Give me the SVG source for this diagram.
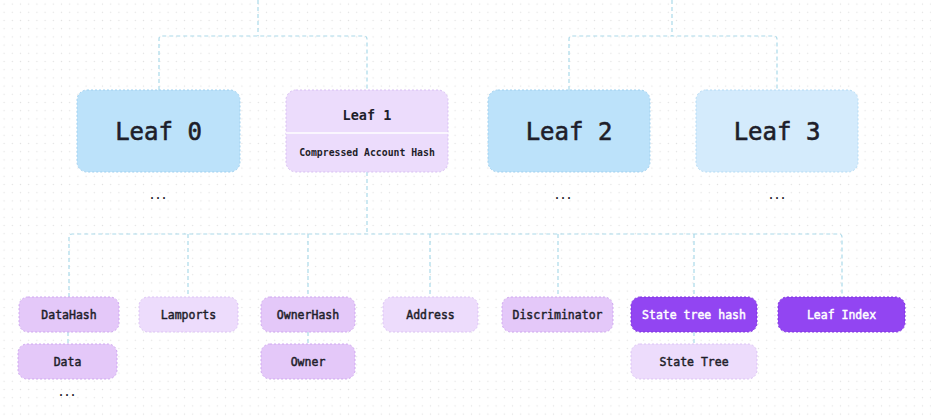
<svg xmlns="http://www.w3.org/2000/svg" width="931" height="417" viewBox="0 0 931 417">
<defs>
<pattern id="grid" width="8.2" height="8.2" patternUnits="userSpaceOnUse">
<rect x="3.5" y="3.5" width="1.2" height="1.2" fill="#e2e2e2"/>
</pattern>
<style>
text{font-family:"DejaVu Sans Mono","Liberation Mono",monospace;text-anchor:middle;fill:#1e1e2a}
.big{font-size:24px;stroke:#1e1e2a;stroke-width:0.6}
.mid{font-size:13.5px;font-weight:bold}
.sm{font-size:9.8px;font-weight:bold}
.lbl{font-size:11.5px;stroke:#1e1e2a;stroke-width:0.45}
.w{fill:#ffffff;stroke:#ffffff}
.dots{font-size:10px;font-weight:bold}
.conn{fill:none;stroke:#abdaea;stroke-width:1.2;stroke-dasharray:4 3}
.blue{fill:#bce2fa;stroke:#9fd0ef;stroke-width:1;stroke-dasharray:2 2}
.lblue{fill:#d4ebfc;stroke:#b4dbf5;stroke-width:1;stroke-dasharray:2 2}
.lav{fill:#ecdcfc;stroke:#d8bff3;stroke-width:1;stroke-dasharray:2 2}
.pmid{fill:#e4c8f9;stroke:#cfa7f0;stroke-width:1;stroke-dasharray:2 2}
.plt{fill:#eddcfc;stroke:#dcc3f5;stroke-width:1;stroke-dasharray:2 2}
.pdark{fill:#9245f2;stroke:#7f30e0;stroke-width:1;stroke-dasharray:2 2}
</style>
</defs>
<rect width="931" height="417" fill="#ffffff"/>
<rect width="931" height="417" fill="url(#grid)"/>

<g id="connectors">
<path class="conn" d="M258 0 V36"/>
<path class="conn" d="M159 90 V39 Q159 36 162 36 H364 Q367 36 367 39 V90"/>
<path class="conn" d="M672 0 V36"/>
<path class="conn" d="M569 90 V39 Q569 36 572 36 H774 Q777 36 777 39 V90"/>
<path class="conn" d="M367 172 V234"/>
<path class="conn" d="M69 297 V237 Q69 234 72 234 H839 Q842 234 842 237 V297"/>
<path class="conn" d="M188 234 V297"/>
<path class="conn" d="M308 234 V297"/>
<path class="conn" d="M430 234 V297"/>
<path class="conn" d="M558 234 V297"/>
<path class="conn" d="M694 234 V297"/>
<path class="conn" d="M68 332 V344"/>
<path class="conn" d="M308 332 V344"/>
<path class="conn" d="M694 332 V344"/>
</g>

<g id="leaf0">
<rect class="blue" x="77" y="90" width="163" height="82" rx="10"/>
<text class="big" x="158.5" y="140">Leaf 0</text>
</g>
<g id="leaf1">
<rect class="lav" x="286" y="90" width="162" height="82" rx="10"/>
<line x1="286" y1="133" x2="448" y2="133" stroke="#ffffff" stroke-width="1.5"/>
<text class="mid" x="367" y="120">Leaf 1</text>
<text class="sm" x="367" y="156">Compressed Account Hash</text>
</g>
<g id="leaf2">
<rect class="blue" x="488" y="90" width="162" height="82" rx="10"/>
<text class="big" x="569" y="140">Leaf 2</text>
</g>
<g id="leaf3">
<rect class="lblue" x="696" y="90" width="162" height="82" rx="10"/>
<text class="big" x="777" y="140">Leaf 3</text>
</g>

<g id="ellipses">
<text class="dots" x="158" y="199">...</text>
<text class="dots" x="563" y="199">...</text>
<text class="dots" x="777" y="199">...</text>
<text class="dots" x="67" y="396">...</text>
</g>

<g id="datahash">
<rect class="pmid" x="19" y="297" width="100" height="35" rx="9"/>
<text class="lbl" x="69" y="319">DataHash</text>
</g>
<g id="lamports">
<rect class="plt" x="139" y="297" width="99" height="35" rx="9"/>
<text class="lbl" x="188.5" y="319">Lamports</text>
</g>
<g id="ownerhash">
<rect class="pmid" x="261" y="297" width="94" height="35" rx="9"/>
<text class="lbl" x="308" y="319">OwnerHash</text>
</g>
<g id="address">
<rect class="plt" x="383" y="297" width="95" height="35" rx="9"/>
<text class="lbl" x="430.5" y="319">Address</text>
</g>
<g id="discriminator">
<rect class="pmid" x="502" y="297" width="111" height="35" rx="9"/>
<text class="lbl" x="557.5" y="319">Discriminator</text>
</g>
<g id="statetreehash">
<rect class="pdark" x="631" y="297" width="126" height="35" rx="9"/>
<text class="lbl w" x="694" y="319">State tree hash</text>
</g>
<g id="leafindex">
<rect class="pdark" x="778" y="297" width="127" height="35" rx="9"/>
<text class="lbl w" x="841.5" y="319">Leaf Index</text>
</g>
<g id="data">
<rect class="pmid" x="18" y="344" width="99" height="35" rx="9"/>
<text class="lbl" x="67.5" y="366">Data</text>
</g>
<g id="owner">
<rect class="pmid" x="261" y="344" width="94" height="35" rx="9"/>
<text class="lbl" x="308" y="366">Owner</text>
</g>
<g id="statetree">
<rect class="plt" x="631" y="344" width="126" height="35" rx="9"/>
<text class="lbl" x="694" y="366">State Tree</text>
</g>
</svg>
